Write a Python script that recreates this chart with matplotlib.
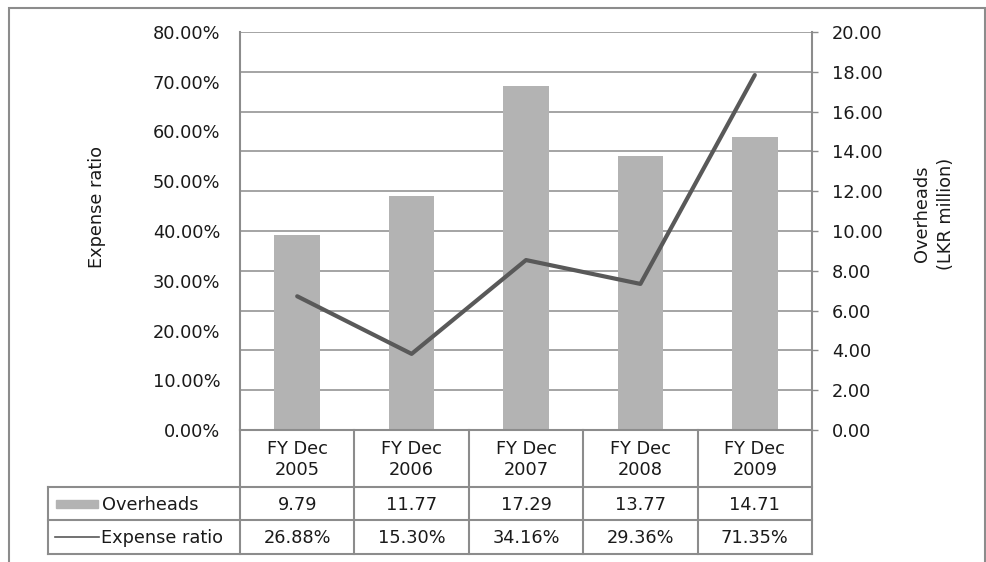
import matplotlib.pyplot as plt
from matplotlib.lines import Line2D
from matplotlib.patches import Rectangle
from matplotlib.ticker import FuncFormatter, MultipleLocator

years = ["FY Dec\n2005", "FY Dec\n2006", "FY Dec\n2007", "FY Dec\n2008", "FY Dec\n2009"]
overheads = [9.79, 11.77, 17.29, 13.77, 14.71]          # LKR million
expense_ratio = [26.88, 15.30, 34.16, 29.36, 71.35]     # percent

W, H = 986, 562
GRID = "#8c8c8c"
BAR = "#b3b3b3"
LINE = "#595959"
TXT = "#1a1a1a"
FS = 12.8

plt.rcParams['font.family'] = ['DejaVu Sans']

fig = plt.figure(figsize=(W / 100, H / 100), dpi=100)


def px(x, y):
    # pixel position (top-left origin) -> figure fraction
    return x / W, 1 - y / H


L, R, T, B = 240, 812, 32, 430
ax = fig.add_axes([L / W, 1 - B / H, (R - L) / W, (B - T) / H])
ax2 = ax.twinx()

n = len(years)
xs = list(range(n))

ax2.bar(xs, overheads, width=0.4, color=BAR, zorder=2)
ax.plot(xs, expense_ratio, color=LINE, lw=3, solid_capstyle='round',
        solid_joinstyle='round', zorder=5)
ax.set_zorder(ax2.get_zorder() + 1)
ax.patch.set_visible(False)

ax.set_xlim(-0.5, n - 0.5)
ax.set_ylim(0, 80)
ax2.set_ylim(0, 20)
ax.yaxis.set_major_locator(MultipleLocator(10))
ax2.yaxis.set_major_locator(MultipleLocator(2))
ax.yaxis.set_major_formatter(FuncFormatter(lambda v, p: f"{v:.2f}%"))
ax2.yaxis.set_major_formatter(FuncFormatter(lambda v, p: f"{v:.2f}"))
ax.set_xticks([])

ax2.grid(axis='y', color=GRID, lw=1.1, zorder=0)
ax2.set_axisbelow(True)

for a in (ax, ax2):
    for s in a.spines.values():
        s.set_visible(False)
ax.spines['left'].set_visible(True)
ax.spines['left'].set_color(GRID)
ax.spines['left'].set_linewidth(1.5)
ax2.spines['right'].set_visible(True)
ax2.spines['right'].set_color(GRID)
ax2.spines['right'].set_linewidth(1.5)

ax.tick_params(axis='y', length=0, pad=14, labelsize=FS, labelcolor=TXT)
ax2.tick_params(axis='y', length=4.3, width=1, color=GRID, pad=10,
                labelsize=FS, labelcolor=TXT)

fig.text(*px(97, 207), "Expense ratio", rotation=90, ha='center', va='center',
         fontsize=FS, color=TXT)
fig.text(*px(934, 214), "Overheads\n(LKR million)", rotation=90, ha='center',
         va='center', fontsize=FS, color=TXT, linespacing=1.4)

# data table under the plot
col_w = (R - L) / n
col_x = [L + i * col_w for i in range(n + 1)]
row_y = [B, 487, 520, 554]
tbl_left = 48


def hline(x0, x1, y):
    fig.add_artist(Line2D([x0 / W, x1 / W], [1 - y / H, 1 - y / H],
                          color=GRID, lw=1.5))


def vline(x, y0, y1):
    fig.add_artist(Line2D([x / W, x / W], [1 - y0 / H, 1 - y1 / H],
                          color=GRID, lw=1.5))


hline(L, R, row_y[0])
for y in row_y[1:]:
    hline(tbl_left, R, y)
for x in col_x:
    vline(x, row_y[0], row_y[3])
vline(tbl_left, row_y[1], row_y[3])

for i, lab in enumerate(years):
    cx = (col_x[i] + col_x[i + 1]) / 2
    fig.text(*px(cx, (row_y[0] + row_y[1]) / 2 + 1), lab, ha='center',
             va='center', fontsize=FS, color=TXT, linespacing=1.25)
    fig.text(*px(cx, (row_y[1] + row_y[2]) / 2 + 1), f"{overheads[i]:.2f}",
             ha='center', va='center', fontsize=FS, color=TXT)
    fig.text(*px(cx, (row_y[2] + row_y[3]) / 2 + 1), f"{expense_ratio[i]:.2f}%",
             ha='center', va='center', fontsize=FS, color=TXT)

# row headers with legend keys
y1 = (row_y[1] + row_y[2]) / 2
fig.add_artist(Rectangle(px(56, y1 + 4), 42 / W, 8 / H, color=BAR))
fig.text(*px(102, y1 + 1), "Overheads", ha='left', va='center',
         fontsize=FS, color=TXT)
y2 = (row_y[2] + row_y[3]) / 2
fig.add_artist(Line2D([55 / W, 99 / W], [1 - y2 / H] * 2, color=LINE, lw=1.2))
fig.text(*px(101, y2 + 1), "Expense ratio", ha='left', va='center',
         fontsize=FS, color=TXT)

# outer chart border
fig.add_artist(Rectangle(px(9, 580), (985 - 9) / W, (580 - 8) / H,
                         fill=False, edgecolor=GRID, lw=1.5))

fig.savefig("out.png", dpi=100)
